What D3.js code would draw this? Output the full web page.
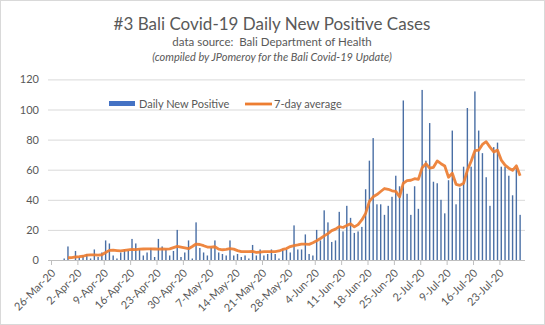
<!DOCTYPE html>
<html>
<head>
<meta charset="utf-8">
<script src="https://cdn.jsdelivr.net/npm/d3@7"></script>
<style>
  body { margin: 0; background: #fff; }
  text { font-family: Lato, "Liberation Sans", sans-serif; }
</style>
</head>
<body>
<svg id="chart" width="545" height="325"></svg>
<script>
// data, one value per day from 26-Mar-20
const firstDay = "26-Mar-20"
const lastDay = "29-Jul-20"   // axis end (exclusive)

const dailyNew = [
  0, 0, 0, 1, 9, 0, 6, 2, 3, 4,
  1, 7, 2, 5, 13, 11, 3, 1, 5, 7,
  6, 14, 11, 7, 3, 5, 8, 2, 14, 9,
  7, 3, 6, 20, 2, 5, 13, 1, 25, 8,
  5, 3, 8, 13, 5, 4, 3, 13, 3, 4,
  2, 3, 1, 10, 3, 7, 3, 4, 7, 4,
  1, 7, 7, 5, 23, 7, 7, 17, 4, 3,
  20, 13, 33, 25, 12, 13, 32, 19, 36, 28,
  18, 19, 22, 47, 66, 81, 37, 37, 30, 36,
  42, 56, 49, 106, 44, 30, 49, 34, 113, 66,
  91, 52, 51, 40, 31, 53, 86, 37, 48, 62,
  101, 62, 112, 86, 71, 55, 36, 75, 78, 62,
  62, 56, 43, 61, 30
]

const avg7 = [
  null, null, null, null, 1.5, 1.6, 2, 2.2, 2.5, 3.2,
  3.4, 3.4, 3.3, 3.5, 5, 6.4, 6.6, 6.3, 6, 6.4,
  6.7, 7, 6.9, 7.2, 7.3, 7.4, 7.4, 7.3, 7.2, 7.3,
  7.2, 7.4, 8.2, 9, 8.5, 8, 7.5, 9, 10.6, 10.3,
  9.5, 8.6, 8.5, 8.8, 7.2, 6.8, 7, 7.5, 7.2, 6.2,
  5.5, 5.6, 5.5, 5.7, 5, 5.3, 5.5, 5.6, 5.5, 5.6,
  6, 7, 7.6, 8.9, 9.6, 10, 10.6, 10.5, 10.4, 11.5,
  12.8, 14.3, 16, 17.5, 19.5, 20.5, 22.2, 21.6, 23, 24,
  22, 23.5, 26.6, 31, 39, 42, 43.5, 45.5, 47.5, 47,
  46, 45.6, 42, 51, 52.7, 53, 54, 53.6, 61.3, 64,
  61, 61.6, 65.8, 64, 62.5, 55, 57.6, 50.3, 49.6, 51,
  59.6, 65.6, 72.6, 73, 76.8, 78.6, 75, 71.8, 73, 66.4,
  63, 61, 59.6, 62.6, 56
]

const tickLabels = ["26-Mar-20", "2-Apr-20", "9-Apr-20", "16-Apr-20", "23-Apr-20", "30-Apr-20",
  "7-May-20", "14-May-20", "21-May-20", "28-May-20", "4-Jun-20", "11-Jun-20", "18-Jun-20",
  "25-Jun-20", "2-Jul-20", "9-Jul-20", "16-Jul-20", "23-Jul-20"]

const yTicks = [0, 20, 40, 60, 80, 100, 120]

const parse = d3.timeParse("%d-%b-%y")
const days = d3.timeDay.range(parse(firstDay), parse(lastDay))
const tickDates = tickLabels.map(parse)

const plot = {left: 51, right: 522, top: 79.4, bottom: 260}

const svg = d3.select("#chart")

// outer frame
svg.append("rect")
  .attr("x", 0.5).attr("y", 0.5)
  .attr("width", 544).attr("height", 324)
  .attr("fill", "#fff").attr("stroke", "#d9d9d9")

const x = d3.scaleTime()
  .domain([parse(firstDay), parse(lastDay)])
  .range([plot.left, plot.right])
const dayW = x(days[1]) - x(days[0])

const y = d3.scaleLinear()
  .domain([0, 120])
  .range([plot.bottom, plot.top])

// titles
svg.append("text")
  .attr("x", 272).attr("y", 30)
  .attr("text-anchor", "middle")
  .style("font-size", "17px").attr("fill", "#595959")
  .text("#3 Bali Covid-19 Daily New Positive Cases")
svg.append("text")
  .attr("x", 272).attr("y", 46)
  .attr("text-anchor", "middle")
  .style("white-space", "pre")
  .style("font-size", "11.5px").attr("fill", "#595959")
  .text("data source:  Bali Department of Health")
svg.append("text")
  .attr("x", 272).attr("y", 61)
  .attr("text-anchor", "middle")
  .style("font-size", "11px").style("font-style", "italic").attr("fill", "#595959")
  .text("(compiled by JPomeroy for the Bali Covid-19 Update)")

// gridlines + y axis
const yAxis = svg.append("g")
  .attr("transform", "translate(" + plot.left + ",0)")
  .call(d3.axisLeft(y).tickValues(yTicks).tickSize(-(plot.right - plot.left + 3)).tickPadding(12))
yAxis.select(".domain").remove()
yAxis.selectAll("line").attr("stroke", "#d9d9d9").attr("x1", -3)
yAxis.selectAll("line").filter(d => d === 0).remove()
yAxis.selectAll("text").style("font-size", "11px").attr("fill", "#595959")

// bars
svg.append("g").selectAll("rect")
  .data(dailyNew)
  .enter().append("rect")
  .attr("x", (d, i) => x(days[i]) + dayW / 2 - 0.7)
  .attr("width", 1.4)
  .attr("y", d => y(d))
  .attr("height", d => y(0) - y(d))
  .attr("fill", "#4a6fa5")

// 7-day average
const line = d3.line()
  .defined(d => d != null)
  .x((d, i) => x(days[i]) + dayW / 2)
  .y(d => y(d))
svg.append("path")
  .datum(avg7)
  .attr("d", line)
  .attr("fill", "none")
  .attr("stroke", "#ed7d31")
  .attr("stroke-width", 2.8)
  .attr("stroke-linejoin", "round")
  .attr("stroke-opacity", 0.92)

// x axis
const xAxis = svg.append("g")
  .attr("transform", "translate(0," + plot.bottom + ")")
  .call(d3.axisBottom(x).tickValues(tickDates).tickFormat((d, i) => tickLabels[i]).tickSize(5).tickSizeOuter(0))
xAxis.select(".domain").attr("stroke", "#bfbfbf")
  .attr("d", "M" + (plot.left - 3) + ",0.5H" + (plot.right + 3))
xAxis.selectAll("line").attr("stroke", "#bfbfbf")
xAxis.selectAll("text")
  .attr("x", 0).attr("y", 0).attr("dy", "0.35em")
  .attr("transform", "translate(2,11) rotate(-45)")
  .style("text-anchor", "end")
  .style("font-size", "11px")
  .attr("fill", "#595959")

// legend
const legend = svg.append("g")
legend.append("rect")
  .attr("x", 109).attr("y", 101).attr("width", 26).attr("height", 5)
  .attr("fill", "#4472c4")
legend.append("text")
  .attr("x", 139).attr("y", 107.5)
  .style("font-size", "11px").attr("fill", "#595959")
  .text("Daily New Positive")
legend.append("line")
  .attr("x1", 245).attr("x2", 272).attr("y1", 104).attr("y2", 104)
  .attr("stroke", "#ed7d31").attr("stroke-width", 2.8)
legend.append("text")
  .attr("x", 274).attr("y", 107.5)
  .style("font-size", "11px").attr("fill", "#595959")
  .text("7-day average")
</script>
</body>
</html>
